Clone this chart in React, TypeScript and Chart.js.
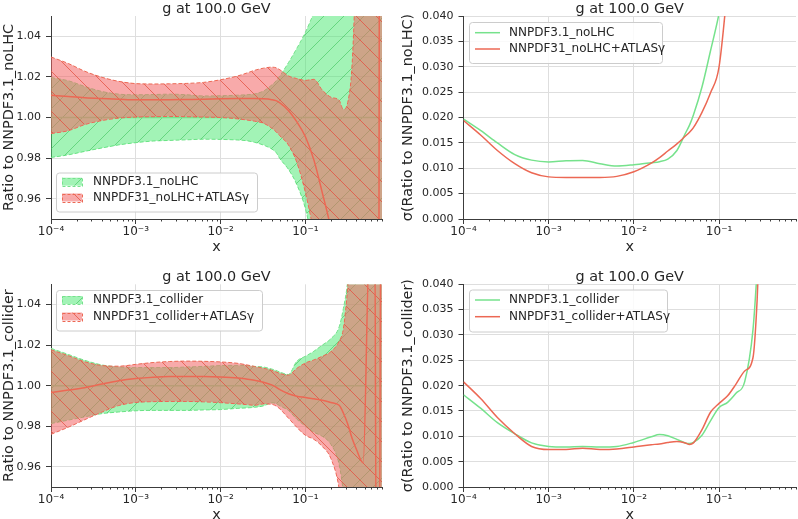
import React, { useEffect, useRef } from 'react';
import { Chart, registerables } from 'chart.js';

Chart.register(...registerables);

// ---------------- data ----------------
const TITLE = 'g at 100.0 GeV';
const X_MIN = 0.0001;
const X_MAX = 0.8;

// common x grid for the bands and sigma curves
const X = [0.0001, 0.00016, 0.00025, 0.0004, 0.00063, 0.001, 0.0016, 0.0025, 0.004, 0.0063, 0.01, 0.016, 0.02, 0.025, 0.032, 0.04, 0.045, 0.05, 0.063, 0.079, 0.1, 0.126, 0.158, 0.2, 0.25, 0.28, 0.316, 0.355, 0.4, 0.5, 0.63, 0.8];

const X_TICKS = [0.0001, 0.001, 0.01, 0.1];
const X_TICK_LABELS = ['10⁻⁴', '10⁻³', '10⁻²', '10⁻¹'];
const RATIO_TICKS = [0.96, 0.98, 1.0, 1.02, 1.04];
const RATIO_TICK_LABELS = ['0.96', '0.98', '1.00', '1.02', '1.04'];
const SIGMA_TICKS = [0, 0.005, 0.01, 0.015, 0.02, 0.025, 0.03, 0.035, 0.04];
const SIGMA_TICK_LABELS = ['0.000', '0.005', '0.010', '0.015', '0.020', '0.025', '0.030', '0.035', '0.040'];

const NOLHC_LABELS = ['NNPDF3.1_noLHC', 'NNPDF31_noLHC+ATLASγ'];
const COLL_LABELS = ['NNPDF3.1_collider', 'NNPDF31_collider+ATLASγ'];

// reference central value (ratio to itself)
const REF_CV_X = [0.0001, 0.8];
const REF_CV = [1, 1];

// --- top-left: ratio to NNPDF3.1_noLHC ---
const NOLHC_UP = [1.0197, 1.0181, 1.0153, 1.0128, 1.0115, 1.0112, 1.0113, 1.0115, 1.0112, 1.0106, 1.0107, 1.011, 1.0112, 1.0116, 1.013, 1.016, 1.018, 1.0205, 1.027, 1.034, 1.042, 1.052, 1.065, 1.08, 1.1, 1.11, 1.13, 1.15, 1.17, 1.22, 1.3, 1.4];
const NOLHC_LO = [0.9803, 0.9816, 0.9833, 0.985, 0.9865, 0.9876, 0.9884, 0.9887, 0.989, 0.9893, 0.9892, 0.9889, 0.9886, 0.9878, 0.9864, 0.9845, 0.9828, 0.9797, 0.9745, 0.967, 0.955, 0.935, 0.91, 0.88, 0.85, 0.83, 0.81, 0.79, 0.77, 0.72, 0.65, 0.6];
const NOLHC_ATLAS_UP = [1.0298, 1.0266, 1.0228, 1.0198, 1.0178, 1.0167, 1.0165, 1.0166, 1.0168, 1.0173, 1.0186, 1.0205, 1.0218, 1.0232, 1.0243, 1.0248, 1.0245, 1.0235, 1.0205, 1.0192, 1.0183, 1.0188, 1.0135, 1.01, 1.0085, 1.004, 1.0075, 1.026, 1.08, 1.2, 1.3, 1.4];
const NOLHC_ATLAS_LO = [0.9921, 0.9935, 0.9965, 0.9985, 0.9997, 1.0002, 1.0004, 1.0005, 1.0004, 1.0002, 1.0, 0.9993, 0.9988, 0.9982, 0.9972, 0.9948, 0.993, 0.991, 0.9865, 0.978, 0.963, 0.943, 0.92, 0.89, 0.86, 0.84, 0.82, 0.8, 0.78, 0.74, 0.68, 0.6];
const NOLHC_ATLAS_CV_X = [0.0001, 0.00016, 0.00025, 0.0004, 0.00063, 0.001, 0.0016, 0.0025, 0.004, 0.0063, 0.01, 0.016, 0.02, 0.025, 0.032, 0.04, 0.045, 0.05, 0.063, 0.079, 0.1, 0.126, 0.158, 0.2, 0.25, 0.28, 0.316, 0.355, 0.4, 0.5, 0.63, 0.73, 0.75, 0.8];
const NOLHC_ATLAS_CV = [1.011, 1.0103, 1.0097, 1.0093, 1.009, 1.0087, 1.0087, 1.0088, 1.0089, 1.009, 1.0092, 1.0093, 1.0093, 1.0093, 1.0092, 1.0088, 1.0083, 1.0072, 1.0035, 0.998, 0.9905, 0.979, 0.963, 0.945, 0.92, 0.905, 0.89, 0.875, 0.86, 0.84, 0.83, 0.82, 1.2, 1.3];

// --- bottom-left: ratio to NNPDF3.1_collider ---
const COLL_UP = [1.0184, 1.0154, 1.0125, 1.0102, 1.0092, 1.0089, 1.0089, 1.0089, 1.0092, 1.0095, 1.0099, 1.01, 1.0099, 1.0095, 1.0092, 1.0082, 1.0075, 1.0067, 1.0055, 1.012, 1.0145, 1.017, 1.02, 1.0232, 1.029, 1.038, 1.052, 1.08, 1.12, 1.2, 1.3, 1.4];
const COLL_LO = [0.9813, 0.983, 0.9846, 0.9862, 0.987, 0.9876, 0.9878, 0.9878, 0.9878, 0.988, 0.9882, 0.9888, 0.989, 0.9893, 0.99, 0.9915, 0.9912, 0.99, 0.9878, 0.9835, 0.98, 0.977, 0.975, 0.971, 0.961, 0.947, 0.92, 0.89, 0.87, 0.82, 0.75, 0.65];
const COLL_ATLAS_UP = [1.0177, 1.0148, 1.0118, 1.0099, 1.0096, 1.0105, 1.0114, 1.0119, 1.0121, 1.012, 1.0117, 1.011, 1.0103, 1.0095, 1.0086, 1.0076, 1.0068, 1.006, 1.0052, 1.0085, 1.0112, 1.0127, 1.0145, 1.0168, 1.022, 1.028, 1.049, 1.08, 1.12, 1.2, 1.3, 1.4];
const COLL_ATLAS_LO = [0.976, 0.9795, 0.9832, 0.987, 0.9902, 0.9917, 0.9921, 0.9922, 0.9922, 0.992, 0.9916, 0.991, 0.9907, 0.9903, 0.991, 0.9908, 0.99, 0.9885, 0.984, 0.9795, 0.9755, 0.9735, 0.97, 0.964, 0.949, 0.93, 0.9, 0.87, 0.85, 0.8, 0.7, 0.6];
const COLL_ATLAS_CV_X = [0.0001, 0.00016, 0.00025, 0.0004, 0.00063, 0.001, 0.0016, 0.0025, 0.004, 0.0063, 0.01, 0.016, 0.02, 0.025, 0.032, 0.04, 0.045, 0.05, 0.063, 0.079, 0.1, 0.126, 0.158, 0.2, 0.25, 0.28, 0.316, 0.355, 0.4, 0.48, 0.57, 0.66, 0.68, 0.75, 0.77, 0.8];
const COLL_ATLAS_CV = [0.9966, 0.9978, 0.999, 1.0008, 1.0024, 1.0035, 1.0042, 1.0045, 1.0045, 1.0045, 1.0043, 1.0038, 1.0033, 1.0027, 1.0017, 1.0004, 0.9993, 0.998, 0.996, 0.9948, 0.9942, 0.9935, 0.9928, 0.9917, 0.9903, 0.9865, 0.981, 0.974, 0.9685, 0.962, 1.07, 1.07, 0.93, 0.93, 1.07, 1.07];

// --- top-right: sigma, noLHC ---
const NOLHC_SIG = [0.0197, 0.0174, 0.015, 0.0127, 0.0116, 0.01125, 0.0115, 0.01155, 0.0109, 0.01045, 0.0107, 0.0111, 0.0113, 0.0118, 0.0135, 0.0168, 0.0185, 0.0205, 0.026, 0.033, 0.0405, 0.05, 0.062, 0.075, 0.09, 0.1, 0.11, 0.12, 0.13, 0.15, 0.17, 0.2];
const NOLHC_ATLAS_SIG = [0.0194, 0.0165, 0.0135, 0.0109, 0.0091, 0.0083, 0.0082, 0.0082, 0.0082, 0.0084, 0.0093, 0.011, 0.0121, 0.0134, 0.0148, 0.0163, 0.0171, 0.018, 0.021, 0.0248, 0.03, 0.046, 0.065, 0.08, 0.09, 0.1, 0.11, 0.12, 0.13, 0.15, 0.17, 0.2];

// --- bottom-right: sigma, collider ---
const COLL_SIG = [0.0182, 0.0155, 0.0127, 0.0105, 0.0087, 0.008, 0.0079, 0.008, 0.0079, 0.008, 0.0088, 0.0099, 0.01035, 0.0101, 0.0094, 0.0087, 0.00856, 0.0088, 0.0102, 0.013, 0.0157, 0.0167, 0.0185, 0.0208, 0.031, 0.043, 0.06, 0.08, 0.1, 0.13, 0.16, 0.2];
const COLL_ATLAS_SIG = [0.02075, 0.0174, 0.0137, 0.0105, 0.008, 0.0074, 0.0074, 0.00765, 0.0074, 0.0075, 0.0079, 0.00835, 0.0085, 0.0088, 0.009, 0.0087, 0.0084, 0.0087, 0.0113, 0.0147, 0.0165, 0.018, 0.0203, 0.0229, 0.0255, 0.037, 0.06, 0.08, 0.1, 0.13, 0.16, 0.2];

// ---------------- style ----------------
const FONT = '"DejaVu Sans", sans-serif';
const TEXT = '#262626';
const AXIS = '#3c3c3c';
const GRID = '#dedede';
const GREEN = 'rgb(118,226,140)';
const RED = 'rgb(236,104,84)';
const GREEN_FILL = 'rgba(70,232,110,0.5)';
const RED_FILL = 'rgba(242,100,100,0.55)';
const GREEN_HATCH = 'rgba(60,195,90,0.6)';
const RED_HATCH = 'rgba(228,80,64,0.75)';
const HATCH = 20;

function makeHatch(ctx: CanvasRenderingContext2D, bg: string, line: string, forward: boolean) {
  const s = HATCH;
  const tile = document.createElement('canvas');
  tile.width = s;
  tile.height = s;
  const g = tile.getContext('2d') as CanvasRenderingContext2D;
  g.fillStyle = bg;
  g.fillRect(0, 0, s, s);
  g.strokeStyle = line;
  g.lineWidth = 1;
  g.beginPath();
  for (const o of [-s, 0, s]) {
    if (forward) {
      g.moveTo(o, s);
      g.lineTo(o + s, 0);
    } else {
      g.moveTo(o, 0);
      g.lineTo(o + s, s);
    }
  }
  g.stroke();
  return ctx.createPattern(tile, 'repeat') as CanvasPattern;
}

const pts = (xs: number[], ys: number[]) => xs.map((x, i) => ({ x, y: ys[i] }));

function solid(xs: number[], ys: number[], color: string, width = 1.5): any {
  return { data: pts(xs, ys), borderColor: color, borderWidth: width, fill: false, pointRadius: 0 };
}
function edge(xs: number[], ys: number[], color: string): any {
  return { data: pts(xs, ys), borderColor: color, borderWidth: 1, borderDash: [4, 2], fill: false, pointRadius: 0 };
}

type Geom = { W: number; H: number; T: number; B: number; R: number };
type Legend = { x: number; y: number; w: number; h: number; rows: number[]; textX: number };

function roundRect(ctx: CanvasRenderingContext2D, x: number, y: number, w: number, h: number, r: number) {
  ctx.beginPath();
  ctx.moveTo(x + r, y);
  ctx.arcTo(x + w, y, x + w, y + h, r);
  ctx.arcTo(x + w, y + h, x, y + h, r);
  ctx.arcTo(x, y + h, x, y, r);
  ctx.arcTo(x, y, x + w, y, r);
  ctx.closePath();
}

function decor(cfg: {
  yTitle: string;
  yTitleX: number;
  legend: Legend;
  labels: string[];
  kind: 'band' | 'line';
  patterns?: CanvasPattern[];
}) {
  return {
    id: 'decor',
    afterDraw(chart: any) {
      const { ctx, chartArea: a } = chart;
      const xs = chart.scales.x;
      ctx.save();
      // minor x ticks
      ctx.strokeStyle = AXIS;
      ctx.lineWidth = 1;
      ctx.beginPath();
      for (let e = -4; e < 0; e++) {
        for (let k = 2; k <= 9; k++) {
          const v = k * Math.pow(10, e);
          if (v > X_MAX) continue;
          const px = Math.round(xs.getPixelForValue(v)) + 0.5;
          ctx.moveTo(px, a.bottom);
          ctx.lineTo(px, a.bottom + 2.5);
        }
      }
      ctx.stroke();

      // title and axis titles
      ctx.fillStyle = TEXT;
      ctx.font = `14.4px ${FONT}`;
      ctx.textAlign = 'center';
      ctx.textBaseline = 'alphabetic';
      const cx = (a.left + a.right) / 2;
      ctx.fillText(TITLE, cx, a.top - 3.2);
      ctx.fillText('x', cx, a.bottom + 31.5);
      ctx.save();
      ctx.translate(cfg.yTitleX, (a.top + a.bottom) / 2);
      ctx.rotate(-Math.PI / 2);
      ctx.textBaseline = 'middle';
      ctx.fillText(cfg.yTitle, 0, 0);
      ctx.restore();

      // legend
      const L = cfg.legend;
      roundRect(ctx, L.x + 0.5, L.y + 0.5, L.w, L.h, 3);
      ctx.fillStyle = 'rgba(255,255,255,0.85)';
      ctx.fill();
      ctx.strokeStyle = '#cccccc';
      ctx.lineWidth = 1;
      ctx.stroke();
      const colors = [GREEN, RED];
      cfg.labels.forEach((label, i) => {
        const ry = L.rows[i];
        if (cfg.kind === 'band' && cfg.patterns) {
          const px = L.x + 6, pw = 20, ph = 8;
          ctx.fillStyle = cfg.patterns[i];
          ctx.fillRect(px, ry - ph / 2, pw, ph);
          ctx.setLineDash([3, 2]);
          ctx.strokeStyle = colors[i];
          ctx.strokeRect(px + 0.5, Math.round(ry - ph / 2) + 0.5, pw, ph);
          ctx.setLineDash([]);
        } else {
          ctx.strokeStyle = colors[i];
          ctx.lineWidth = 1.5;
          ctx.beginPath();
          ctx.moveTo(L.x + 6, ry);
          ctx.lineTo(L.x + 31, ry);
          ctx.stroke();
          ctx.lineWidth = 1;
        }
        ctx.fillStyle = TEXT;
        ctx.font = `12px ${FONT}`;
        ctx.textAlign = 'left';
        ctx.textBaseline = 'middle';
        ctx.fillText(label, L.textX, ry);
      });
      ctx.restore();
    },
  };
}

function options(g: Geom, yMin: number, yMax: number, yTicks: number[], yLabels: string[]): any {
  return {
    responsive: false,
    animation: false,
    events: [],
    layout: { padding: { left: 0, right: g.R, top: g.T, bottom: g.B } },
    plugins: { legend: { display: false }, tooltip: { enabled: false }, title: { display: false } },
    elements: { point: { radius: 0 }, line: { cubicInterpolationMode: 'monotone', capBezierPoints: false } },
    scales: {
      x: {
        type: 'logarithmic',
        min: X_MIN,
        max: X_MAX,
        afterFit: (s: any) => { s.height = g.H; },
        afterBuildTicks: (s: any) => { s.ticks = X_TICKS.map((v) => ({ value: v, major: true })); },
        grid: { color: GRID, tickColor: AXIS, tickLength: 5, lineWidth: 1 },
        border: { display: true, color: AXIS, width: 1 },
        ticks: {
          autoSkip: false, maxRotation: 0, minRotation: 0, padding: 1, color: TEXT,
          font: { family: FONT, size: 12 },
          callback: (_v: any, i: number) => X_TICK_LABELS[i],
        },
      },
      y: {
        type: 'linear',
        min: yMin,
        max: yMax,
        afterFit: (s: any) => { s.width = g.W; },
        afterBuildTicks: (s: any) => { s.ticks = yTicks.map((v) => ({ value: v })); },
        grid: { color: GRID, tickColor: AXIS, tickLength: 5, lineWidth: 1 },
        border: { display: true, color: AXIS, width: 1 },
        ticks: {
          padding: 5, color: TEXT, font: { family: FONT, size: 11 },
          callback: (_v: any, i: number) => yLabels[i],
        },
      },
    },
  };
}

function bandChart(canvas: HTMLCanvasElement, p: any) {
  const ctx = canvas.getContext('2d') as CanvasRenderingContext2D;
  const gPat = makeHatch(ctx, GREEN_FILL, GREEN_HATCH, true);
  const rPat = makeHatch(ctx, RED_FILL, RED_HATCH, false);
  const datasets = [
    solid(p.redCvX, p.redCv, RED, 1.5),
    { ...edge(X, p.redUp, RED), backgroundColor: rPat, fill: '+1' },
    edge(X, p.redLo, RED),
    solid(REF_CV_X, REF_CV, GREEN, 1.5),
    { ...edge(X, p.greenUp, GREEN), backgroundColor: gPat, fill: '+1' },
    edge(X, p.greenLo, GREEN),
  ];
  return new Chart(canvas, {
    type: 'line',
    data: { datasets },
    options: options(p.geom, 0.95, 1.05, RATIO_TICKS, RATIO_TICK_LABELS),
    plugins: [decor({ yTitle: p.yTitle, yTitleX: 9, legend: p.legend, labels: p.labels, kind: 'band', patterns: [gPat, rPat] })],
  } as any);
}

function sigmaChart(canvas: HTMLCanvasElement, p: any) {
  const datasets = [solid(X, p.red, RED, 1.5), solid(X, p.green, GREEN, 1.5)];
  return new Chart(canvas, {
    type: 'line',
    data: { datasets },
    options: options(p.geom, 0, 0.04, SIGMA_TICKS, SIGMA_TICK_LABELS),
    plugins: [decor({ yTitle: p.yTitle, yTitleX: 9.5, legend: p.legend, labels: p.labels, kind: 'line' })],
  } as any);
}

function Panel(props: { left: number; top: number; width: number; height: number; build: (c: HTMLCanvasElement) => Chart }) {
  const ref = useRef<HTMLCanvasElement>(null);
  useEffect(() => {
    const chart = props.build(ref.current as HTMLCanvasElement);
    return () => chart.destroy();
  }, []);
  return (
    <canvas
      ref={ref}
      width={props.width}
      height={props.height}
      style={{ position: 'absolute', left: props.left, top: props.top, width: props.width, height: props.height }}
    />
  );
}

export default function App() {
  return (
    <div style={{ position: 'absolute', left: 0, top: 0, width: 798, height: 519, background: '#ffffff', overflow: 'hidden' }}>
      <Panel
        left={0} top={0} width={399} height={260}
        build={(c) => bandChart(c, {
          greenUp: NOLHC_UP, greenLo: NOLHC_LO, redUp: NOLHC_ATLAS_UP, redLo: NOLHC_ATLAS_LO,
          redCvX: NOLHC_ATLAS_CV_X, redCv: NOLHC_ATLAS_CV,
          labels: NOLHC_LABELS, yTitle: 'Ratio to NNPDF3.1_noLHC',
          geom: { W: 51, H: 30, T: 16, B: 11, R: 17 },
          legend: { x: 56, y: 172.5, w: 201, h: 39, rows: [181.7, 197.5], textX: 93 },
        })}
      />
      <Panel
        left={399} top={0} width={399} height={260}
        build={(c) => sigmaChart(c, {
          green: NOLHC_SIG, red: NOLHC_ATLAS_SIG,
          labels: NOLHC_LABELS, yTitle: 'σ(Ratio to NNPDF3.1_noLHC)',
          geom: { W: 64.5, H: 30, T: 16, B: 11, R: 2 },
          legend: { x: 70, y: 22, w: 193, h: 41, rows: [32.7, 49], textX: 110 },
        })}
      />
      <Panel
        left={0} top={260} width={399} height={259}
        build={(c) => bandChart(c, {
          greenUp: COLL_UP, greenLo: COLL_LO, redUp: COLL_ATLAS_UP, redLo: COLL_ATLAS_LO,
          redCvX: COLL_ATLAS_CV_X, redCv: COLL_ATLAS_CV,
          labels: COLL_LABELS, yTitle: 'Ratio to NNPDF3.1_collider',
          geom: { W: 51, H: 30, T: 24.3, B: 2, R: 17 },
          legend: { x: 56, y: 30, w: 206, h: 40.5, rows: [40, 56.5], textX: 93 },
        })}
      />
      <Panel
        left={399} top={260} width={399} height={259}
        build={(c) => sigmaChart(c, {
          green: COLL_SIG, red: COLL_ATLAS_SIG,
          labels: COLL_LABELS, yTitle: 'σ(Ratio to NNPDF3.1_collider)',
          geom: { W: 64.5, H: 30, T: 24.3, B: 2, R: 2 },
          legend: { x: 70, y: 29.5, w: 198, h: 42, rows: [40, 56.7], textX: 110 },
        })}
      />
    </div>
  );
}
